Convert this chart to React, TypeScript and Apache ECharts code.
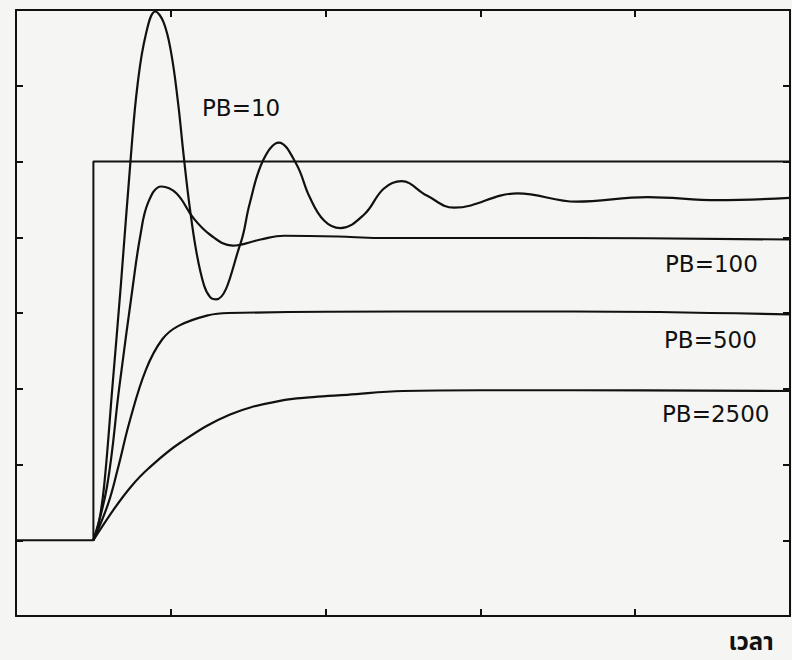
import { useEffect, useRef } from "react";
import * as echarts from "echarts";

// time axis: 0..5, output axis: 0..8 (ticks every 1)
const timeTicks = [0, 1, 2, 3, 4, 5];
const outputTicks = [0, 1, 2, 3, 4, 5, 6, 7, 8];

// step input (set point)
const stepInput: number[][] = [[0, 1], [0.5, 1], [0.5, 6], [5, 6]];

// responses [time, output]
const pb10: number[][] = [
  [0.5, 1], [0.534, 1.22], [0.569, 1.71], [0.623, 3.03], [0.677, 4.36], [0.744, 6.12],
  [0.785, 7.01], [0.838, 7.67], [0.9, 7.98], [0.953, 7.84], [1.001, 7.45],
  [1.046, 6.79], [1.084, 6.06], [1.122, 5.4], [1.165, 4.81], [1.214, 4.37],
  [1.254, 4.21], [1.293, 4.18], [1.449, 4.91], [1.509, 5.44], [1.595, 6.01],
  [1.698, 6.25], [1.81, 5.97], [1.897, 5.53], [1.99, 5.22], [2.095, 5.12],
  [2.249, 5.3], [2.375, 5.64], [2.49, 5.74], [2.654, 5.55], [2.83, 5.39],
  [3.24, 5.58], [3.62, 5.47], [4.08, 5.53], [4.53, 5.49], [5.0, 5.52],
];
const pb100: number[][] = [
  [0.5, 1], [0.588, 1.71], [0.668, 3.03], [0.755, 4.36], [0.803, 5.02],
  [0.854, 5.46], [0.938, 5.67], [1.036, 5.58], [1.147, 5.25], [1.256, 5.03],
  [1.398, 4.89], [1.58, 4.97], [1.73, 5.02], [2.08, 5.01], [2.34, 4.99],
  [3.63, 4.99], [5.0, 4.97],
];
const pb500: number[][] = [
  [0.5, 1], [0.595, 1.48], [0.656, 1.93], [0.737, 2.59], [0.839, 3.25],
  [0.944, 3.65], [1.05, 3.83], [1.243, 3.97], [1.372, 4.0], [2.5, 4.02],
  [3.6, 4.02], [5.0, 3.98],
];
const pb2500: number[][] = [
  [0.5, 1], [0.636, 1.42], [0.744, 1.71], [0.852, 1.94], [1.063, 2.29],
  [1.383, 2.66], [1.705, 2.84], [1.919, 2.89], [2.14, 2.92], [2.5, 2.97],
  [3.0, 2.98], [3.6, 2.98], [5.0, 2.97],
];

const curveLabels = ["PB=10", "PB=100", "PB=500", "PB=2500"];
const xAxisTitle = "เวลา";

const INK = "#111111";

export default function App() {
  const ref = useRef<HTMLDivElement>(null);

  useEffect(() => {
    document.body.style.margin = "0";
    const chart = echarts.init(ref.current!, null, { renderer: "svg" });

    const axisCommon = {
      type: "value" as const,
      interval: 1,
      axisLine: { show: true, onZero: false, lineStyle: { color: INK, width: 2 } },
      axisTick: { show: true, inside: true, length: 7, lineStyle: { color: INK, width: 2 } },
      axisLabel: { show: false },
      splitLine: { show: false },
    };

    const curve = (name: string, data: number[][]) => ({
      name,
      type: "line" as const,
      data,
      showSymbol: false,
      smooth: 0.4,
      lineStyle: { color: INK, width: 2.2 },
      z: 3,
    });

    const labelPos = [
      [202, 108],
      [665, 264],
      [664, 340],
      [662, 414],
    ];

    chart.setOption({
      animation: false,
      backgroundColor: "#f5f5f3",
      grid: { left: 16, right: 2, top: 10, bottom: 44, containLabel: false },
      xAxis: [
        { ...axisCommon, position: "bottom", min: timeTicks[0], max: timeTicks[timeTicks.length - 1] },
        { ...axisCommon, position: "top", min: timeTicks[0], max: timeTicks[timeTicks.length - 1] },
      ],
      yAxis: [
        { ...axisCommon, position: "left", min: outputTicks[0], max: outputTicks[outputTicks.length - 1] },
        { ...axisCommon, position: "right", min: outputTicks[0], max: outputTicks[outputTicks.length - 1] },
      ],
      series: [
        {
          name: "input",
          type: "line",
          data: stepInput,
          showSymbol: false,
          lineStyle: { color: INK, width: 2 },
          z: 2,
        },
        curve(curveLabels[0], pb10),
        curve(curveLabels[1], pb100),
        curve(curveLabels[2], pb500),
        curve(curveLabels[3], pb2500),
      ],
      graphic: [
        ...curveLabels.map((t, i) => ({
          type: "text",
          x: labelPos[i][0],
          y: labelPos[i][1],
          z: 10,
          style: {
            text: t,
            fill: INK,
            fontFamily: "DejaVu Sans",
            fontSize: 23,
            textAlign: "left",
            textVerticalAlign: "middle",
          },
        })),
        {
          type: "text",
          x: 751,
          y: 643,
          z: 10,
          style: {
            text: xAxisTitle,
            fill: INK,
            fontFamily: "'Noto Sans Thai', 'Loma', 'Garuda', 'Tlwg Typo', 'Norasi', sans-serif",
            fontWeight: "bold",
            fontSize: 24,
            textAlign: "center",
            textVerticalAlign: "middle",
          },
        },
      ],
    });

    return () => chart.dispose();
  }, []);

  return <div ref={ref} style={{ width: 792, height: 660 }} />;
}
